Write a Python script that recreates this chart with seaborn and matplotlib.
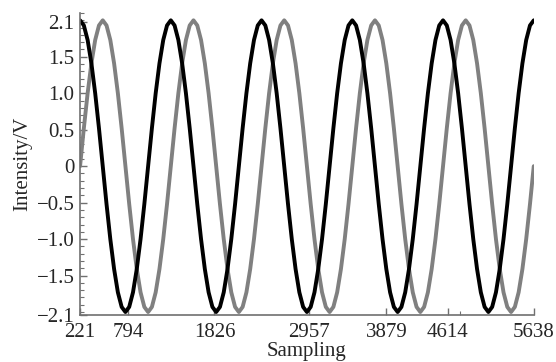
import numpy as np
import pandas as pd
import matplotlib
matplotlib.use("Agg")
import matplotlib.pyplot as plt
from matplotlib.ticker import MultipleLocator
import seaborn as sns

# readings taken 24 times per cycle, 5 cycles, from 221 to 5638
sampling = np.linspace(221, 5638, 121)

black_wave = [
    2.0, 1.93, 1.73, 1.41, 1.0, 0.52, 0.0, -0.52, -1.0, -1.41, -1.73, -1.93,
    -2.0, -1.93, -1.73, -1.41, -1.0, -0.52, 0.0, 0.52, 1.0, 1.41, 1.73, 1.93,
    2.0, 1.93, 1.73, 1.41, 1.0, 0.52, 0.0, -0.52, -1.0, -1.41, -1.73, -1.93,
    -2.0, -1.93, -1.73, -1.41, -1.0, -0.52, 0.0, 0.52, 1.0, 1.41, 1.73, 1.93,
    2.0, 1.93, 1.73, 1.41, 1.0, 0.52, 0.0, -0.52, -1.0, -1.41, -1.73, -1.93,
    -2.0, -1.93, -1.73, -1.41, -1.0, -0.52, 0.0, 0.52, 1.0, 1.41, 1.73, 1.93,
    2.0, 1.93, 1.73, 1.41, 1.0, 0.52, 0.0, -0.52, -1.0, -1.41, -1.73, -1.93,
    -2.0, -1.93, -1.73, -1.41, -1.0, -0.52, 0.0, 0.52, 1.0, 1.41, 1.73, 1.93,
    2.0, 1.93, 1.73, 1.41, 1.0, 0.52, 0.0, -0.52, -1.0, -1.41, -1.73, -1.93,
    -2.0, -1.93, -1.73, -1.41, -1.0, -0.52, 0.0, 0.52, 1.0, 1.41, 1.73, 1.93,
    2.0,
]
gray_wave = [
    0.0, 0.52, 1.0, 1.41, 1.73, 1.93, 2.0, 1.93, 1.73, 1.41, 1.0, 0.52,
    0.0, -0.52, -1.0, -1.41, -1.73, -1.93, -2.0, -1.93, -1.73, -1.41, -1.0, -0.52,
    0.0, 0.52, 1.0, 1.41, 1.73, 1.93, 2.0, 1.93, 1.73, 1.41, 1.0, 0.52,
    0.0, -0.52, -1.0, -1.41, -1.73, -1.93, -2.0, -1.93, -1.73, -1.41, -1.0, -0.52,
    0.0, 0.52, 1.0, 1.41, 1.73, 1.93, 2.0, 1.93, 1.73, 1.41, 1.0, 0.52,
    0.0, -0.52, -1.0, -1.41, -1.73, -1.93, -2.0, -1.93, -1.73, -1.41, -1.0, -0.52,
    0.0, 0.52, 1.0, 1.41, 1.73, 1.93, 2.0, 1.93, 1.73, 1.41, 1.0, 0.52,
    0.0, -0.52, -1.0, -1.41, -1.73, -1.93, -2.0, -1.93, -1.73, -1.41, -1.0, -0.52,
    0.0, 0.52, 1.0, 1.41, 1.73, 1.93, 2.0, 1.93, 1.73, 1.41, 1.0, 0.52,
    0.0, -0.52, -1.0, -1.41, -1.73, -1.93, -2.0, -1.93, -1.73, -1.41, -1.0, -0.52,
    0.0,
]

x_ticks = [221, 794, 1826, 2957, 3879, 4614, 5638]
y_ticks = [-2.04, -1.5, -1.0, -0.5, 0.0, 0.5, 1.0, 1.5, 1.98]
y_labels = ["\u22122.1", "\u22121.5", "\u22121.0", "\u22120.5", "0", "0.5", "1.0", "1.5", "2.1"]

df = pd.DataFrame({"Sampling": sampling, "black": black_wave, "gray": gray_wave})

sns.set_style("ticks")
plt.rcParams["font.family"] = ["Liberation Serif", "DejaVu Serif"]

fig = plt.figure(figsize=(5.56, 3.62), dpi=100)
ax = fig.add_axes([0.144, 0.130, 0.816, 0.834])

sns.lineplot(data=df, x="Sampling", y="gray", color="#808080", linewidth=2.8,
             solid_joinstyle="round", ax=ax)
sns.lineplot(data=df, x="Sampling", y="black", color="black", linewidth=2.8,
             solid_joinstyle="round", ax=ax)

ax.set_xlim(221, 5638)
ax.set_ylim(-2.04, 2.1)
ax.set_xticks(x_ticks)
ax.set_xticklabels([str(t) for t in x_ticks])
ax.set_xticks([4758], minor=True)
ax.set_yticks(y_ticks)
ax.set_yticklabels(y_labels)
ax.yaxis.set_minor_locator(MultipleLocator(0.1))

for side in ["top", "right"]:
    ax.spines[side].set_visible(False)
for side in ["left", "bottom"]:
    ax.spines[side].set_color("#707070")
    ax.spines[side].set_linewidth(1.2)

ax.tick_params(which="major", direction="in", length=5, width=1, color="#707070",
               labelsize=15, pad=4)
ax.tick_params(axis="x", which="major", pad=6)
ax.tick_params(which="minor", direction="in", length=3, width=0.8, color="#707070")

ax.set_xlabel("Sampling", fontsize=15, labelpad=0)
ax.set_ylabel("Intensity/V", fontsize=15, labelpad=3)

fig.savefig("out.png", dpi=100)
